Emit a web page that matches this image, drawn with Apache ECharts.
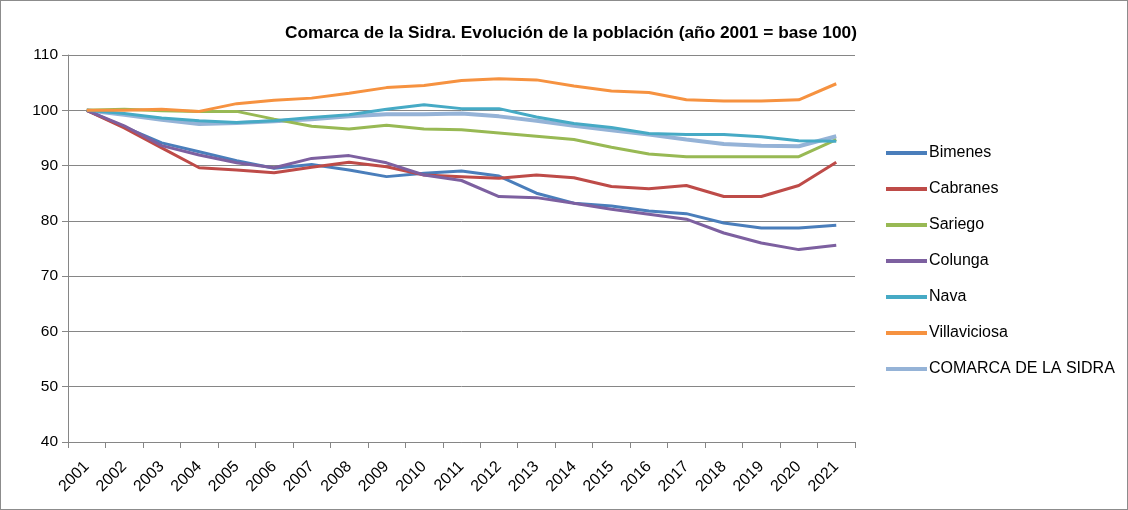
<!DOCTYPE html>
<html>
<head>
    <meta charset="UTF-8">
    <title>Comarca de la Sidra</title>
    <script src="https://cdn.jsdelivr.net/npm/echarts@6/dist/echarts.min.js"></script>
    <style>
        body { margin: 0; background: #fff; }
        #main { width: 1126px; height: 508px; border: 1px solid #8c8c8c; }
    </style>
</head>
<body>
    <div id="main"></div>
    <script type="text/javascript">
        // años (eje X)
        var years = ['2001','2002','2003','2004','2005','2006','2007','2008','2009','2010','2011',
                     '2012','2013','2014','2015','2016','2017','2018','2019','2020','2021'];

        // índices de población, 2001 = 100
        var bimenes      = [100, 97.0, 94.1, 92.5, 90.9, 89.5, 90.2, 89.2, 88.0, 88.6, 89.0, 88.1, 85.0, 83.2, 82.7, 81.8, 81.3, 79.6, 78.7, 78.7, 79.2];
        var cabranes     = [100, 96.8, 93.2, 89.6, 89.2, 88.7, 89.7, 90.6, 89.8, 88.3, 88.0, 87.7, 88.3, 87.8, 86.2, 85.8, 86.4, 84.4, 84.4, 86.4, 90.6];
        var sariego      = [100, 100.2, 99.9, 99.8, 99.8, 98.4, 97.1, 96.6, 97.3, 96.6, 96.5, 95.9, 95.3, 94.7, 93.3, 92.1, 91.6, 91.6, 91.6, 91.6, 94.7];
        var colunga      = [100, 97.2, 93.6, 91.9, 90.5, 89.6, 91.3, 91.8, 90.5, 88.3, 87.3, 84.4, 84.2, 83.2, 82.1, 81.2, 80.3, 77.8, 76.0, 74.8, 75.6];
        var nava         = [100, 99.4, 98.6, 98.1, 97.8, 98.1, 98.7, 99.2, 100.2, 101.0, 100.3, 100.3, 98.8, 97.6, 96.9, 95.8, 95.6, 95.6, 95.2, 94.5, 94.4];
        var villaviciosa = [100, 100.0, 100.2, 99.8, 101.2, 101.8, 102.2, 103.1, 104.1, 104.5, 105.4, 105.7, 105.5, 104.4, 103.5, 103.2, 101.9, 101.7, 101.7, 101.9, 104.8];
        var comarca      = [100, 99.2, 98.3, 97.5, 97.7, 98.0, 98.4, 98.9, 99.3, 99.3, 99.4, 98.9, 98.1, 97.2, 96.4, 95.6, 94.7, 93.9, 93.6, 93.5, 95.3];

        var names  = ['Bimenes', 'Cabranes', 'Sariego', 'Colunga', 'Nava', 'Villaviciosa', 'COMARCA DE LA SIDRA'];
        var values = [bimenes, cabranes, sariego, colunga, nava, villaviciosa, comarca];
        var colors = ['#4A7EBB', '#BE4B48', '#98B954', '#7D60A0', '#46AAC5', '#F69240', '#95B3D7'];
        var widths = [3, 3, 3, 3, 3, 3, 4];

        var myChart = echarts.init(document.getElementById('main'));

        var series = names.map(function (n, i) {
            return {
                name: n,
                type: 'line',
                data: values[i],
                symbol: 'none',
                color: colors[i],
                lineStyle: { width: widths[i], color: colors[i] },
                z: i === 6 ? 1 : 2
            };
        });

        var option = {
            animation: false,
            textStyle: { fontFamily: 'Liberation Sans' },
            title: {
                text: 'Comarca de la Sidra. Evolución de la población (año 2001 = base 100)',
                left: 284,
                top: 24,
                padding: 0,
                textStyle: { fontSize: 17.3, fontWeight: 'bold', color: '#000', fontFamily: 'Liberation Sans' }
            },
            legend: {
                orient: 'vertical',
                left: 885,
                top: 144,
                padding: 0,
                itemWidth: 41,
                itemHeight: 4,
                itemGap: 20,
                icon: 'rect',
                textStyle: { fontSize: 16, color: '#000', padding: [0, 0, 0, -3] },
                data: names
            },
            grid: { left: 67, right: 272, top: 54, bottom: 67 },
            xAxis: {
                type: 'category',
                data: years,
                boundaryGap: true,
                axisLine: { lineStyle: { color: '#868686' } },
                axisTick: { show: true, length: 6, lineStyle: { color: '#868686' } },
                axisLabel: { rotate: 45, fontSize: 16, color: '#000', margin: 22 }
            },
            yAxis: {
                type: 'value',
                min: 40,
                max: 110,
                interval: 10,
                axisLine: { show: true, lineStyle: { color: '#868686' } },
                axisTick: { show: true, length: 6, lineStyle: { color: '#868686' } },
                splitLine: { lineStyle: { color: '#868686' } },
                axisLabel: { fontSize: 15.5, color: '#000', margin: 10 }
            },
            series: series
        };

        myChart.setOption(option);
    </script>
</body>
</html>
